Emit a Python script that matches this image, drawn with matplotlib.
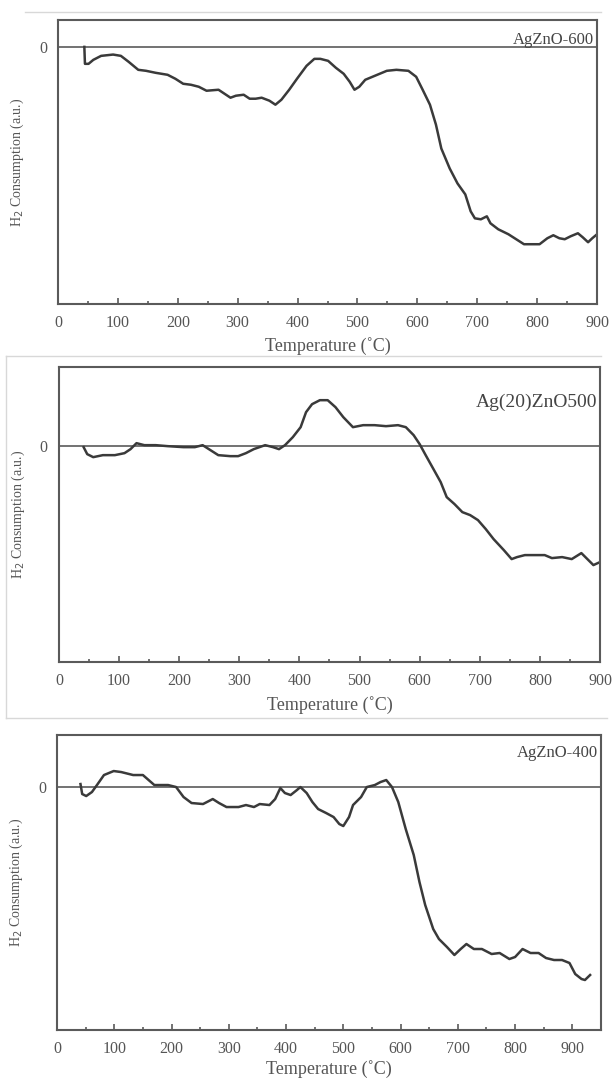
import matplotlib
matplotlib.use("Agg")
import matplotlib.pyplot as plt
from matplotlib.lines import Line2D
from matplotlib.ticker import MultipleLocator

# TPR curves (arbitrary units, 0 = baseline)
t_600 = [44, 45, 51, 59, 72, 92, 105, 118, 134, 147, 163, 183, 196, 209, 222, 235, 248, 268,
         278, 288, 297, 310, 320, 330, 340, 353, 363, 373, 386, 399, 415, 428, 438, 451, 464,
         477, 487, 495, 503, 513, 529, 549, 565, 585, 598, 608, 621, 631, 640, 654, 667, 680,
         689, 696, 706, 716, 722, 735, 752, 765, 778, 791, 804, 817, 827, 837, 846, 856, 868,
         876, 885, 892, 900]
h_600 = [0.0, -0.17, -0.17, -0.13, -0.09, -0.077, -0.09, -0.15, -0.23, -0.24, -0.26, -0.28,
         -0.32, -0.37, -0.38, -0.40, -0.44, -0.43, -0.47, -0.51, -0.49, -0.48, -0.52, -0.52,
         -0.51, -0.54, -0.58, -0.53, -0.43, -0.32, -0.19, -0.12, -0.12, -0.14, -0.21, -0.27,
         -0.35, -0.43, -0.40, -0.33, -0.29, -0.24, -0.23, -0.24, -0.30, -0.42, -0.58, -0.78,
         -1.02, -1.22, -1.37, -1.48, -1.65, -1.72, -1.73, -1.70, -1.77, -1.83, -1.88, -1.93,
         -1.98, -1.98, -1.98, -1.92, -1.89, -1.92, -1.93, -1.90, -1.87, -1.91, -1.96, -1.92,
         -1.88]

t_500 = [41, 47, 57, 73, 93, 109, 119, 129, 142, 161, 181, 207, 226, 239, 252, 265, 285, 298,
         311, 324, 343, 356, 366, 376, 389, 402, 411, 421, 434, 447, 460, 473, 489, 506, 525,
         544, 564, 577, 590, 600, 610, 623, 635, 645, 658, 671, 684, 697, 710, 723, 740, 753,
         762, 775, 791, 808, 820, 837, 853, 869, 879, 889, 900]
h_500 = [-0.01, -0.08, -0.11, -0.09, -0.09, -0.07, -0.03, 0.03, 0.01, 0.01, 0.0, -0.01, -0.01,
         0.01, -0.04, -0.09, -0.10, -0.10, -0.07, -0.03, 0.01, -0.01, -0.03, 0.01, 0.09, 0.19,
         0.34, 0.42, 0.46, 0.46, 0.39, 0.29, 0.19, 0.21, 0.21, 0.20, 0.21, 0.19, 0.11, 0.02,
         -0.09, -0.23, -0.36, -0.51, -0.58, -0.66, -0.69, -0.74, -0.83, -0.93, -1.04, -1.13,
         -1.11, -1.09, -1.09, -1.09, -1.12, -1.11, -1.13, -1.07, -1.13, -1.19, -1.16]

t_400 = [41, 44, 51, 61, 71, 82, 99, 112, 133, 150, 160, 170, 194, 208, 221, 235, 255, 272,
         283, 296, 317, 330, 344, 354, 371, 381, 390, 398, 408, 419, 425, 436, 446, 456, 470,
         483, 493, 500, 510, 517, 531, 541, 555, 565, 575, 585, 596, 609, 623, 633, 643, 657,
         667, 681, 694, 705, 715, 728, 742, 759, 773, 790, 800, 813, 827, 841, 854, 868, 882,
         895, 905, 916, 922, 931]
h_400 = [0.03, -0.07, -0.09, -0.05, 0.03, 0.12, 0.16, 0.15, 0.12, 0.12, 0.07, 0.02, 0.02, 0.0,
         -0.10, -0.16, -0.17, -0.12, -0.16, -0.20, -0.20, -0.18, -0.20, -0.17, -0.18, -0.12,
         -0.01, -0.06, -0.08, -0.03, 0.0, -0.06, -0.15, -0.22, -0.26, -0.30, -0.37, -0.39,
         -0.30, -0.18, -0.10, 0.0, 0.02, 0.05, 0.07, 0.0, -0.15, -0.42, -0.68, -0.95, -1.18,
         -1.42, -1.52, -1.60, -1.68, -1.62, -1.57, -1.62, -1.62, -1.67, -1.66, -1.72, -1.70,
         -1.62, -1.66, -1.66, -1.71, -1.73, -1.73, -1.76, -1.87, -1.92, -1.93, -1.88]

panels = [
    dict(t=t_600, h=h_600, label="AgZnO-600", xmax=900, ylim=(-2.58, 0.27),
         rect=[0.0946, 0.7185, 0.8794, 0.263], lab_size=12, lab_y=0.93, xpad=4),
    dict(t=t_500, h=h_500, label="Ag(20)ZnO500", xmax=900, ylim=(-2.16, 0.79),
         rect=[0.0962, 0.387, 0.8826, 0.273], lab_size=14, lab_y=0.88, xpad=5),
    dict(t=t_400, h=h_400, label="AgZnO-400", xmax=950, ylim=(-2.43, 0.52),
         rect=[0.093, 0.0463, 0.8874, 0.2731], lab_size=12, lab_y=0.94, xpad=2),
]

plt.rcParams["font.family"] = ["Liberation Serif", "DejaVu Serif"]
ink = "#3a3a3a"
frame = "#5a5a5a"

fig = plt.figure(figsize=(6.13, 10.8), dpi=100)

for p in panels:
    ax = fig.add_axes(p["rect"])
    ax.axhline(0, color=frame, lw=1.2)
    ax.plot(p["t"], p["h"], color=ink, lw=1.8)
    ax.set_xlim(0, p["xmax"])
    ax.set_ylim(*p["ylim"])
    ax.xaxis.set_major_locator(MultipleLocator(100))
    ax.xaxis.set_minor_locator(MultipleLocator(50))
    ax.set_yticks([0])
    ax.tick_params(axis="x", which="major", direction="in", length=4, width=1.2,
                   color=frame, labelsize=11.5, labelcolor="#555555", pad=8)
    ax.tick_params(axis="x", which="minor", direction="in", length=2.5, width=1.2, color=frame)
    ax.tick_params(axis="y", length=0, labelsize=11.5, labelcolor="#555555", pad=8)
    for s in ax.spines.values():
        s.set_color(frame)
        s.set_linewidth(1.5)
    ax.set_xlabel("Temperature (\u02daC)", fontsize=13, color="#555555", labelpad=p["xpad"])
    ax.set_ylabel("H$_2$ Consumption (a.u.)", fontsize=10, color="#555555", labelpad=9)
    ax.text(0.995, p["lab_y"], p["label"], transform=ax.transAxes, ha="right", va="center",
            fontsize=p["lab_size"], color="#444444")

# faint frames of the pasted images
grey = "#d8d8d8"
fig.add_artist(Line2D([0.04, 0.98], [0.989, 0.989], color=grey, lw=1))
fig.add_artist(Line2D([0.01, 0.98], [0.670, 0.670], color=grey, lw=1))
fig.add_artist(Line2D([0.01, 0.01], [0.335, 0.670], color=grey, lw=1))
fig.add_artist(Line2D([0.01, 0.99], [0.335, 0.335], color=grey, lw=1))

fig.savefig("out.png", dpi=100)
